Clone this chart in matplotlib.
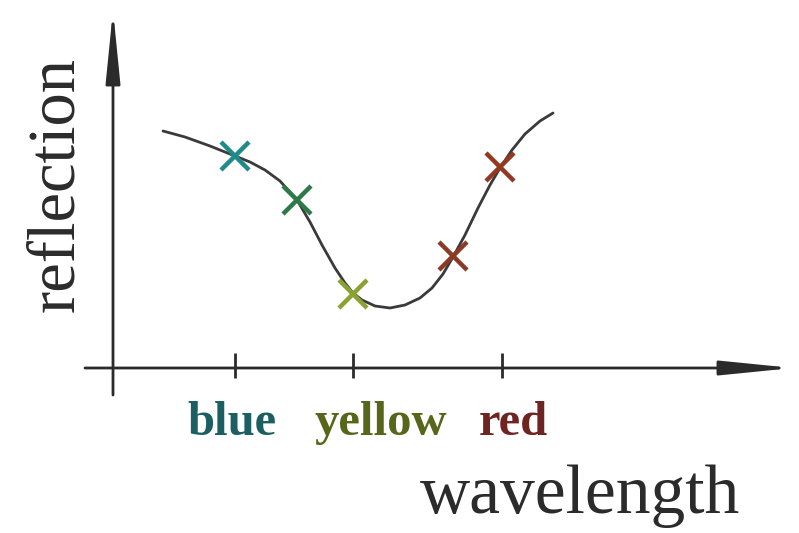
import matplotlib.pyplot as plt
from matplotlib.patches import FancyArrowPatch

plt.rcParams['font.family'] = ['Liberation Serif', 'DejaVu Serif']

# Sketch data (arbitrary units: wavelength along x, reflection along y)
# ===========================
curve_wl = [0.50, 0.72, 0.97, 1.22, 1.37, 1.52, 1.67, 1.84, 1.97, 2.09,
            2.22, 2.32, 2.40, 2.49, 2.62, 2.77, 2.92, 3.07, 3.19, 3.30,
            3.40, 3.52, 3.65, 3.77, 3.87, 3.99, 4.12, 4.27, 4.40]
curve_refl = [2.37, 2.31, 2.22, 2.12, 2.06, 1.98, 1.87, 1.68, 1.46, 1.23,
              1.00, 0.85, 0.75, 0.68, 0.62, 0.60, 0.63, 0.70, 0.80, 0.94,
              1.11, 1.33, 1.60, 1.83, 2.00, 2.18, 2.34, 2.47, 2.55]

sample_wl = [1.22, 1.84, 2.40, 3.40, 3.87]
sample_refl = [2.12, 1.68, 0.74, 1.12, 2.01]
sample_colors = ['#1f8a8a', '#2b7a48', '#8aa232', '#8c3a24', '#94381f']

tick_wl = [1.22, 2.40, 3.89]
tick_names = ['blue', 'yellow', 'red']
tick_name_wl = [1.19, 2.68, 4.00]
tick_name_colors = ['#1b5f63', '#56661a', '#6e2420']

fig = plt.figure(figsize=(7.99, 5.33), dpi=100, facecolor='w')
ax = fig.add_axes([0, 0, 1, 1])
ax.set_xlim(-1.13, 6.86)
ax.set_ylim(-1.65, 3.68)
ax.axis('off')

axis_col = '#2b2b2b'

# axes with arrow heads
for start, end in [((-0.28, 0), (6.80, 0)), ((0, -0.27), (0, 3.58))]:
    ax.add_patch(FancyArrowPatch(start, end,
                                 arrowstyle='-|>,head_length=2.2,head_width=0.22',
                                 mutation_scale=20, color=axis_col, lw=2.0,
                                 shrinkA=0, shrinkB=0))

ax.vlines(tick_wl, -0.10, 0.15, color=axis_col, lw=2.0)

ax.plot(curve_wl, curve_refl, color='#3a3a3a', lw=2.0,
        solid_capstyle='round', solid_joinstyle='round')

for w, r, c in zip(sample_wl, sample_refl, sample_colors):
    ax.plot(w, r, marker='x', ms=20, mew=3.2, color=c, zorder=5)

for name, w, c in zip(tick_names, tick_name_wl, tick_name_colors):
    ax.text(w, -0.67, name, ha='center', va='baseline', fontsize=35,
            fontweight='bold', color=c)

ax.text(4.67, -1.45, 'wavelength', ha='center', va='baseline',
        fontsize=50, color='#2b2b2b')
ax.text(-0.56, 1.83, 'reflection', ha='center', va='center', rotation=90,
        fontsize=48, color='#2b2b2b')

plt.savefig('out.png', dpi=100)
